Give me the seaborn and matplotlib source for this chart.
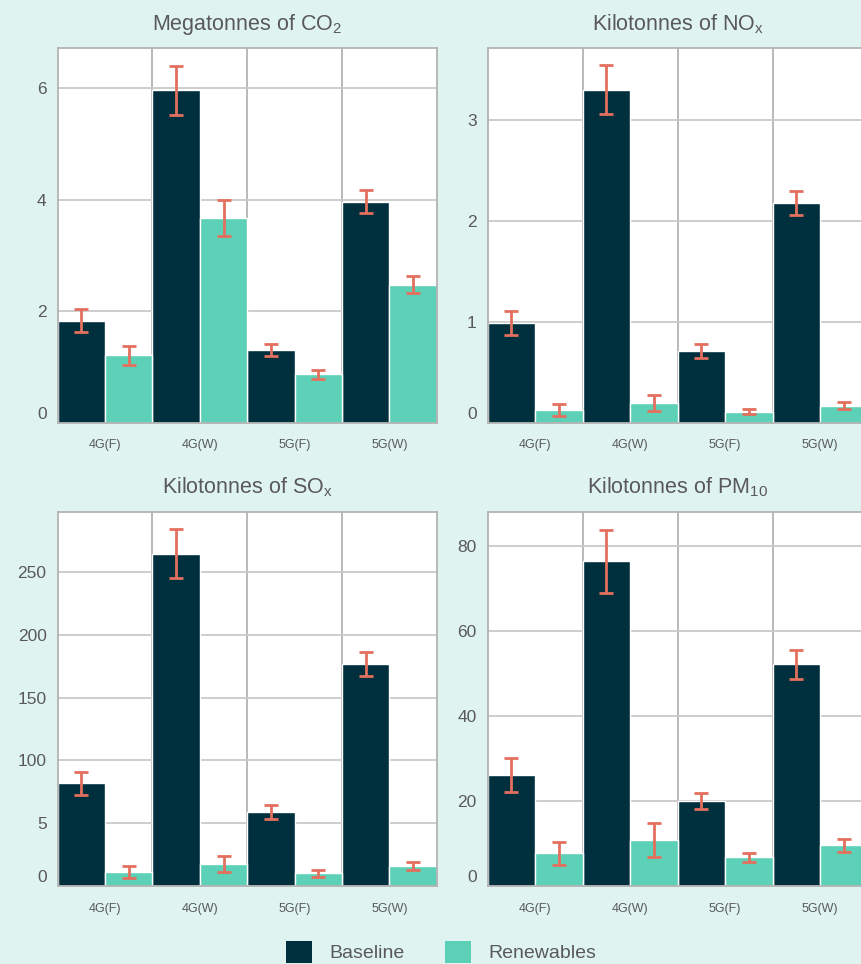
import matplotlib
matplotlib.use("Agg")
import matplotlib.pyplot as plt
import matplotlib.transforms as mtransforms
from matplotlib.patches import Patch
import numpy as np
import pandas as pd
import seaborn as sns

# ---------------- data ----------------
categories = ["4G(F)", "4G(W)", "5G(F)", "5G(W)"]
series = ["Baseline", "Renewables"]

co2_base = [1.83, 5.97, 1.31, 3.97]
co2_base_err = [0.21, 0.44, 0.11, 0.20]
co2_ren = [1.21, 3.68, 0.87, 2.48]
co2_ren_err = [0.17, 0.32, 0.08, 0.16]

nox_base = [0.99, 3.30, 0.71, 2.18]
nox_base_err = [0.12, 0.24, 0.065, 0.12]
nox_ren = [0.126, 0.195, 0.11, 0.17]
nox_ren_err = [0.055, 0.075, 0.025, 0.038]

sox_base = [81.7, 264.7, 58.9, 176.6]
sox_base_err = [9.2, 19.5, 5.4, 9.7]
sox_ren = [10.9, 17.3, 10.1, 15.9]
sox_ren_err = [4.8, 6.5, 3.0, 3.2]

pm_base = [26.1, 76.3, 20.0, 52.1]
pm_base_err = [4.1, 7.3, 1.8, 3.5]
pm_ren = [7.7, 10.8, 6.8, 9.6]
pm_ren_err = [2.7, 3.9, 1.05, 1.55]

titles = ["Megatonnes of CO$_2$", "Kilotonnes of NO$_x$",
          "Kilotonnes of SO$_x$", "Kilotonnes of PM$_{10}$"]
y_ticks = [[0, 2, 4, 6], [0, 1, 2, 3],
           [0, 50, 100, 150, 200, 250], [0, 20, 40, 60, 80]]
y_tick_labels = [["0", "2", "4", "6"], ["0", "1", "2", "3"],
                 ["0", "5", "100", "150", "200", "250"],
                 ["0", "20", "40", "60", "80"]]
y_max = [6.72, 3.71, 298, 88]

panels = [
    (co2_base, co2_base_err, co2_ren, co2_ren_err),
    (nox_base, nox_base_err, nox_ren, nox_ren_err),
    (sox_base, sox_base_err, sox_ren, sox_ren_err),
    (pm_base, pm_base_err, pm_ren, pm_ren_err),
]

# ---------------- style ----------------
BG = "#dff4f1"
DARK = "#002f3d"
TEAL = "#5dd0b8"
ERR = "#e3705e"
GRID = "#c9c9c9"
SPINE = "#b3b3b3"
TXT = "#595959"

sns.set_theme(style="white")
plt.rcParams["font.family"] = ["Liberation Sans", "DejaVu Sans"]
plt.rcParams["mathtext.fontset"] = "custom"
plt.rcParams["mathtext.rm"] = "Liberation Sans"
plt.rcParams["mathtext.it"] = "Liberation Sans"
plt.rcParams["mathtext.default"] = "regular"

W, H = 862, 964
fig = plt.figure(figsize=(W / 100, H / 100), dpi=100, facecolor=BG)

# axes rectangles in pixels: left, top, right, bottom
rects = [
    (57.7, 48.3, 436.7, 422.7),
    (487.7, 48.3, 867.7, 422.7),
    (57.7, 511.7, 436.7, 886.0),
    (487.7, 511.7, 867.7, 886.0),
]

for i, (base, base_err, ren, ren_err) in enumerate(panels):
    l, t, r, b = rects[i]
    ax = fig.add_axes([l / W, (H - b) / H, (r - l) / W, (b - t) / H])
    ax.set_facecolor("white")

    df = pd.DataFrame({
        "category": categories * 2,
        "series": [series[0]] * 4 + [series[1]] * 4,
        "value": list(base) + list(ren),
    })
    sns.barplot(data=df, x="category", y="value", hue="series",
                order=categories, hue_order=series,
                palette=[DARK, TEAL], saturation=1, width=1.0, gap=0,
                edgecolor="white", linewidth=1.0,
                errorbar=None, legend=False, ax=ax, zorder=2)

    for cont, err in zip(ax.containers, [base_err, ren_err]):
        xs = [p.get_x() + p.get_width() / 2 for p in cont]
        hs = [p.get_height() for p in cont]
        ax.errorbar(xs, hs, yerr=err, fmt="none", ecolor=ERR,
                    elinewidth=2.0, capsize=5.2, capthick=2.0, zorder=4)

    ax.set_xlim(-0.5, 3.5)
    ax.set_ylim(0, y_max[i])
    ax.set_yticks(y_ticks[i])
    ax.set_yticklabels(y_tick_labels[i])
    ax.set_xticks(range(len(categories)))
    ax.set_xticklabels(categories)
    ax.set_xticks([0.5, 1.5, 2.5], minor=True)
    ax.set_xlabel("")
    ax.set_ylabel("")

    ax.set_axisbelow(True)
    ax.grid(axis="y", which="major", color=GRID, linewidth=1.3, zorder=0)
    ax.grid(axis="x", which="minor", color=SPINE, linewidth=1.3, zorder=3)
    ax.grid(axis="x", which="major", visible=False)

    for s in ax.spines.values():
        s.set_color(SPINE)
        s.set_linewidth(1.3)

    ax.tick_params(axis="y", length=0, pad=8, labelsize=12.5, labelcolor=TXT)
    ax.tick_params(axis="x", which="major", length=0, pad=12,
                   labelsize=9, labelcolor=TXT)
    ax.tick_params(axis="x", which="minor", length=0)

    # lift the "0" label slightly as in the reference
    zero_tick = ax.yaxis.get_major_ticks()[0]
    zero_tick.label1.set_transform(
        zero_tick.label1.get_transform()
        + mtransforms.ScaledTranslation(0, 10 / 100, fig.dpi_scale_trans))

    ax.set_title(titles[i], fontsize=15.5, color=TXT, pad=13)

handles = [Patch(facecolor=DARK, edgecolor="none", label=series[0]),
           Patch(facecolor=TEAL, edgecolor="none", label=series[1])]
fig.legend(handles=handles, loc="center", ncol=2,
           bbox_to_anchor=(0.5116, 12 / H), frameon=False,
           fontsize=14, labelcolor=TXT,
           handlelength=1.35, handleheight=1.35,
           handletextpad=0.85, columnspacing=2.1)

fig.savefig("out.png", dpi=100, facecolor=BG)
